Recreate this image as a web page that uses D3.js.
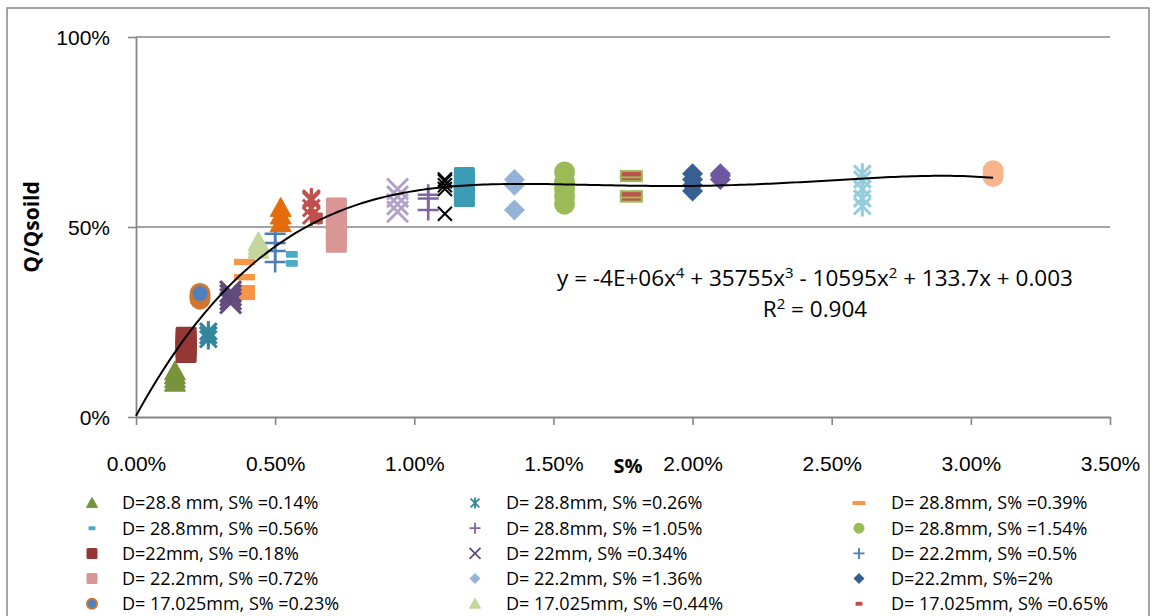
<!DOCTYPE html>
<html>
<head>
<meta charset="utf-8">
<script src="https://cdn.jsdelivr.net/npm/d3@7"></script>
<style>
  body { margin: 0; background: #fff; }
  svg { display: block; font-family: "Open Sans", "Liberation Sans", sans-serif; }
</style>
</head>
<body>
<svg id="chart" width="1156" height="616"></svg>
<script>
// ---- data -------------------------------------------------------------
const seriesNames = [
  "D=28.8 mm, S% =0.14%", "D= 28.8mm, S% =0.26%", "D= 28.8mm, S% =0.39%",
  "D= 28.8mm, S% =0.56%", "D= 28.8mm, S% =1.05%", "D= 28.8mm, S% =1.54%",
  "D=22mm, S% =0.18%", "D= 22mm, S% =0.34%", "D= 22.2mm, S% =0.5%",
  "D= 22.2mm, S% =0.72%", "D= 22.2mm, S% =1.36%", "D=22.2mm, S%=2%",
  "D= 17.025mm, S% =0.23%", "D= 17.025mm, S% =0.44%", "D= 17.025mm, S% =0.65%",
  "S% =0.52%", "S% =0.63%", "S% =0.94%", "S% =1.11%", "S% =1.18%",
  "S% =1.78%", "S% =2.1%", "S% =2.61%", "S% =3.08%"
];
// sediment concentration S% of each series (percent)
const seriesS = [0.14, 0.26, 0.39, 0.56, 1.05, 1.54, 0.18, 0.34, 0.5, 0.72, 1.36, 2.0,
                 0.23, 0.44, 0.65, 0.52, 0.63, 0.94, 1.11, 1.18, 1.78, 2.1, 2.61, 3.08];
// measured Q/Qsolid ratios of each series
const seriesQ = [
  [0.09, 0.10, 0.11, 0.12],
  [0.205, 0.215, 0.225],
  [0.316, 0.329, 0.339, 0.368, 0.408],
  [0.404, 0.428],
  [0.545, 0.575, 0.585],
  [0.56, 0.58, 0.60, 0.62, 0.645],
  [0.17, 0.18, 0.19, 0.20, 0.21],
  [0.30, 0.31, 0.32, 0.33],
  [0.408, 0.437, 0.458, 0.482],
  [0.46, 0.48, 0.50, 0.52, 0.55],
  [0.545, 0.61, 0.625],
  [0.595, 0.61, 0.625, 0.64],
  [0.31, 0.315, 0.32, 0.325],
  [0.44, 0.45, 0.46],
  [0.516, 0.529],
  [0.51, 0.53, 0.55],
  [0.53, 0.55, 0.57, 0.575],
  [0.54, 0.56, 0.58, 0.60],
  [0.535, 0.60, 0.61, 0.62, 0.625],
  [0.58, 0.60, 0.62, 0.63],
  [0.575, 0.586, 0.629, 0.639],
  [0.625, 0.635, 0.64],
  [0.555, 0.575, 0.60, 0.625, 0.64],
  [0.633, 0.64, 0.648]
];
// polynomial trendline y = c0 + c1*s + c2*s^2 + c3*s^3 + c4*s^4, s as a fraction
const trendCoefficients = [0.003, 133.7, -10595, 357550, -4.32e6];
const xTicks = [0, 0.5, 1.0, 1.5, 2.0, 2.5, 3.0, 3.5];
const yTicks = [0, 0.5, 1.0];
const equationParts = [["y = -4E+06x", "4"], [" + 35755x", "3"], [" - 10595x", "2"], [" + 133.7x + 0.003", ""]];
const rSquaredParts = [["R", "2"], [" = 0.904", ""]];

// ---- marker styles ----------------------------------------------------
const seriesMarker = ["triangle", "star", "dash", "shortdash", "plus", "circle",
  "square", "x", "plus", "square", "diamond", "diamond",
  "circle", "triangle", "shortdash", "triangle", "star", "x", "x", "square",
  "dash", "diamond", "star", "circle"];
const seriesFill = ["#77933C", "#31859C", "#F79646", "#4BACC6", "#8064A2", "#9BBB59",
  "#953735", "#604A7B", "#4A7EBB", "#D99694", "#95B3D7", "#376092",
  "#4F81BD", "#C3D69B", "#C0504D", "#E46C0A", "#C0504D", "#B3A2C7", "#000000", "#3C9BB5",
  "#C0504D", "#7058A0", "#93CDDD", "#F8B48C"];
const seriesStroke = seriesFill.map((c, i) => i === 12 ? "#D2752E" : i === 20 ? "#9BBB59" : c);
const seriesSize = seriesMarker.map((m, i) => i === 18 ? 14 : m === "shortdash" ? 12 : 21);

// ---- layout -----------------------------------------------------------
const svg = d3.select("#chart");
const W = 1156, H = 616;
const plot = { left: 136, right: 1110, top: 37, bottom: 417 };
const grey = "#868686";

const x = d3.scaleLinear().domain([0, 3.5]).range([plot.left, plot.right]);
const y = d3.scaleLinear().domain([0, 1]).range([plot.bottom, plot.top]);

// chart frame
svg.append("rect").attr("x", 7).attr("y", 8).attr("width", 1142).attr("height", 700)
  .attr("fill", "none").attr("stroke", grey).attr("stroke-width", 1.5);

// horizontal gridlines
svg.append("g").selectAll("line").data(yTicks.filter(v => v > 0)).join("line")
  .attr("x1", plot.left).attr("x2", plot.right)
  .attr("y1", d => y(d)).attr("y2", d => y(d))
  .attr("stroke", grey).attr("stroke-width", 1.6);

// axes
const xAxis = d3.axisBottom(x).tickValues(xTicks).tickSize(8).tickSizeOuter(0)
  .tickFormat(d => d3.format(".2f")(d) + "%");
const gx = svg.append("g").attr("transform", `translate(0,${plot.bottom})`).call(xAxis);
gx.select(".domain").attr("stroke", grey).attr("stroke-width", 1.8);
gx.selectAll(".tick line").attr("stroke", grey).attr("stroke-width", 1.6);
gx.selectAll(".tick text").attr("font-size", 21).attr("fill", "#000").attr("font-family", null)
  .attr("y", 0).attr("dy", null).attr("transform", "translate(0,54)");

const yAxis = d3.axisLeft(y).tickValues(yTicks).tickSize(8).tickSizeOuter(0)
  .tickFormat(d => d3.format(".0%")(d));
const gy = svg.append("g").attr("transform", `translate(${plot.left},0)`).call(yAxis);
gy.select(".domain").attr("stroke", grey).attr("stroke-width", 1.8);
gy.selectAll(".tick line").attr("stroke", grey).attr("stroke-width", 1.6);
gy.selectAll(".tick text").attr("font-size", 21).attr("fill", "#000").attr("font-family", null)
  .attr("x", -26).attr("dy", "0.36em");

// axis titles
svg.append("text").attr("transform", `translate(32,${y(0.5)}) rotate(-90)`)
  .attr("text-anchor", "middle").attr("dy", "0.35em")
  .attr("font-size", 21).attr("font-weight", "bold").text("Q/Qsoild");
svg.append("text").attr("x", 628).attr("y", 473)
  .attr("text-anchor", "middle").attr("font-size", 20).attr("font-weight", "bold").text("S%");

// ---- markers ----------------------------------------------------------
function drawMarker(g, type, s, fill, stroke) {
  const h = s / 2;
  const lw = s < 16 ? 2 : 3;
  switch (type) {
    case "triangle":
      g.append("path").attr("d", `M0,${-h}L${h},${h * 0.8}L${-h},${h * 0.8}Z`)
        .attr("fill", fill).attr("stroke", stroke).attr("stroke-width", 1).attr("stroke-linejoin", "round");
      break;
    case "square":
      g.append("rect").attr("x", -h).attr("y", -h).attr("width", s).attr("height", s)
        .attr("rx", 1.5).attr("fill", fill);
      break;
    case "circle":
      g.append("circle").attr("r", stroke !== fill ? h - 1.5 : h)
        .attr("fill", fill).attr("stroke", stroke).attr("stroke-width", stroke !== fill ? 3 : 0);
      break;
    case "diamond":
      g.append("path").attr("d", `M0,${-h}L${h},0L0,${h}L${-h},0Z`).attr("fill", fill);
      break;
    case "x":
      g.append("path").attr("d", `M${-h},${-h}L${h},${h}M${h},${-h}L${-h},${h}`)
        .attr("stroke", stroke).attr("stroke-width", lw).attr("fill", "none");
      break;
    case "plus":
      g.append("path").attr("d", `M${-h},0L${h},0M0,${-h}L0,${h}`)
        .attr("stroke", stroke).attr("stroke-width", lw * 0.85).attr("fill", "none");
      break;
    case "star":
      g.append("path").attr("d", `M${-h * 0.8},${-h * 0.8}L${h * 0.8},${h * 0.8}M${h * 0.8},${-h * 0.8}L${-h * 0.8},${h * 0.8}M0,${-h}L0,${h}`)
        .attr("stroke", stroke).attr("stroke-width", lw).attr("fill", "none");
      break;
    case "dash":
      g.append("rect").attr("x", -h).attr("y", -s * 0.15).attr("width", s).attr("height", s * 0.3)
        .attr("fill", fill).attr("stroke", stroke).attr("stroke-width", stroke !== fill ? 2 : 0);
      break;
    case "shortdash":
      g.append("rect").attr("x", -h).attr("y", -s * 0.28).attr("width", s).attr("height", s * 0.56)
        .attr("rx", 1).attr("fill", fill);
      break;
  }
}

const points = svg.append("g");
seriesQ.forEach((vals, i) => {
  points.append("g").selectAll("g").data(vals).join("g")
    .attr("transform", d => `translate(${x(seriesS[i])},${y(d)})`)
    .each(function () {
      drawMarker(d3.select(this), seriesMarker[i], seriesSize[i], seriesFill[i], seriesStroke[i]);
    });
});

// ---- 4th-order polynomial trendline ------------------------------------
const poly = s => trendCoefficients.reduce((acc, c, k) => acc + c * Math.pow(s / 100, k), 0);
const sMax = d3.max(seriesS);
const curveS = d3.range(0, 201).map(k => sMax * k / 200);
svg.append("path")
  .attr("d", d3.line().x(s => x(s)).y(s => y(poly(s)))(curveS))
  .attr("fill", "none").attr("stroke", "#000").attr("stroke-width", 2);

// ---- trendline equation ----------------------------------------------
function richText(parts, cx, by) {
  const t = svg.append("text").attr("x", cx).attr("y", by).attr("text-anchor", "middle")
    .attr("font-size", 22.5).attr("fill", "#000");
  let shift = 0;
  parts.forEach(([base, sup]) => {
    t.append("tspan").attr("dy", shift).text(base);
    shift = 0;
    if (sup) { t.append("tspan").attr("dy", -8).attr("font-size", 15).text(sup); shift = 8; }
  });
}
richText(equationParts, 815, 286);
richText(rSquaredParts, 815, 317);

// ---- legend (rows that fit inside the frame) ---------------------------
const legendCols = [{ mx: 92, tx: 122 }, { mx: 475, tx: 506 }, { mx: 859, tx: 891 }];
const legendTop = 503, legendRow = 25.2;
const legend = svg.append("g");
seriesNames.forEach((name, i) => {
  const row = Math.floor(i / 3), col = legendCols[i % 3];
  const cy = legendTop + row * legendRow;
  if (cy > H - 6) return;
  const mg = legend.append("g").attr("transform", `translate(${col.mx},${cy})`);
  const m = seriesMarker[i];
  const s = m === "dash" ? 13 : m === "shortdash" ? 7 : 11;
  drawMarker(mg, m, s, seriesFill[i], seriesStroke[i]);
  if (m === "x" || m === "plus" || m === "star") mg.select("path").attr("stroke-width", 1.8);
  if (m === "dash") mg.select("rect").attr("height", 4).attr("y", -2);
  if (m === "shortdash") mg.select("rect").attr("height", 4).attr("y", -2);
  if (m === "circle" && seriesStroke[i] !== seriesFill[i]) mg.select("circle").attr("stroke-width", 2).attr("r", 5);
  legend.append("text").attr("x", col.tx).attr("y", cy).attr("dy", "0.35em")
    .attr("font-size", 18).attr("fill", "#000").text(name);
});
</script>
</body>
</html>
